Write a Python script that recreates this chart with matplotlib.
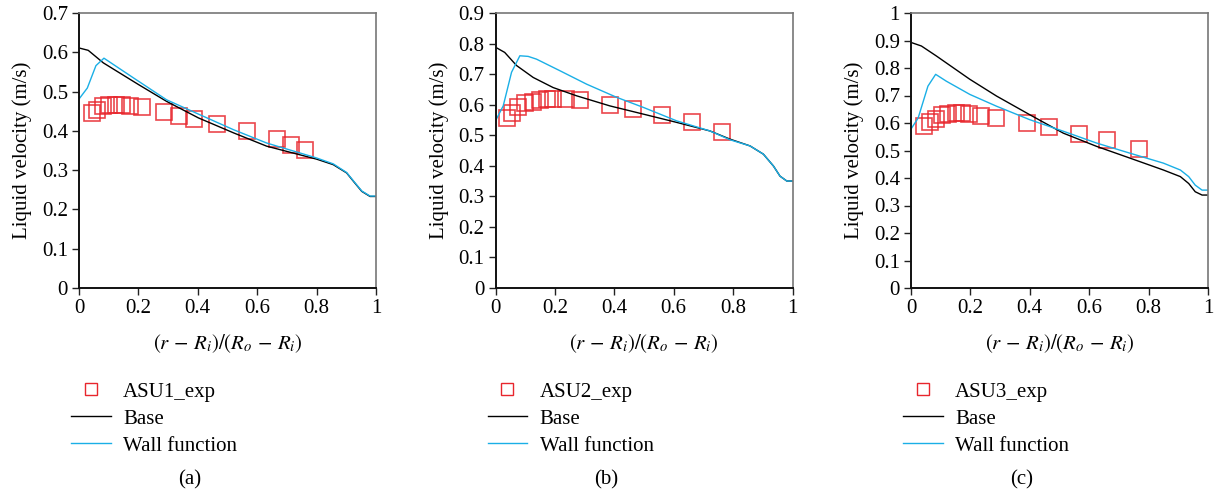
import matplotlib.pyplot as plt
from matplotlib.lines import Line2D

plt.rcParams['font.family'] = 'Liberation Serif'
plt.rcParams['mathtext.fontset'] = 'stix'
plt.rcParams['font.size'] = 15

# panel (a) ASU1
exp1_x = [0.045, 0.061, 0.082, 0.101, 0.125, 0.146, 0.172, 0.211, 0.286, 0.338,
          0.388, 0.464, 0.565, 0.666, 0.713, 0.761]
exp1_y = [0.445, 0.454, 0.462, 0.465, 0.466, 0.466, 0.464, 0.460, 0.447, 0.437,
          0.430, 0.417, 0.400, 0.379, 0.365, 0.352]
base1_x = [0, 0.031, 0.082, 0.2, 0.295, 0.402, 0.52, 0.632, 0.8, 0.856, 0.901,
           0.929, 0.952, 0.98, 1.0]
base1_y = [0.611, 0.605, 0.573, 0.518, 0.475, 0.433, 0.395, 0.361, 0.328, 0.314,
           0.293, 0.267, 0.246, 0.233, 0.233]
wall1_x = [0, 0.028, 0.057, 0.084, 0.183, 0.295, 0.407, 0.52, 0.632, 0.8, 0.856,
           0.901, 0.929, 0.952, 0.98, 1.0]
wall1_y = [0.481, 0.509, 0.566, 0.585, 0.535, 0.479, 0.441, 0.403, 0.369, 0.331,
           0.316, 0.294, 0.268, 0.247, 0.234, 0.234]

# panel (b) ASU2
exp2_x = [0.040, 0.057, 0.076, 0.099, 0.125, 0.149, 0.172, 0.194, 0.236, 0.284,
          0.385, 0.462, 0.562, 0.661, 0.764]
exp2_y = [0.558, 0.574, 0.594, 0.605, 0.610, 0.615, 0.618, 0.618, 0.618, 0.615,
          0.600, 0.585, 0.566, 0.542, 0.511]
base2_x = [0, 0.031, 0.071, 0.127, 0.194, 0.273, 0.385, 0.498, 0.61, 0.722, 0.79,
           0.857, 0.902, 0.936, 0.958, 0.981, 1.0]
base2_y = [0.788, 0.771, 0.728, 0.689, 0.656, 0.629, 0.596, 0.569, 0.542, 0.514,
           0.487, 0.465, 0.438, 0.399, 0.366, 0.350, 0.350]
wall2_x = [0, 0.026, 0.054, 0.082, 0.11, 0.138, 0.217, 0.307, 0.408, 0.498, 0.61,
           0.722, 0.79, 0.857, 0.902, 0.936, 0.958, 0.981, 1.0]
wall2_y = [0.547, 0.596, 0.706, 0.760, 0.758, 0.749, 0.711, 0.667, 0.624, 0.591,
           0.547, 0.514, 0.485, 0.465, 0.438, 0.399, 0.366, 0.350, 0.350]

# panel (c) ASU3
exp3_x = [0.044, 0.063, 0.083, 0.103, 0.125, 0.150, 0.172, 0.196, 0.237, 0.286,
          0.389, 0.463, 0.564, 0.661, 0.766]
exp3_y = [0.590, 0.602, 0.616, 0.628, 0.634, 0.637, 0.637, 0.634, 0.624, 0.618,
          0.600, 0.584, 0.561, 0.539, 0.506]
base3_x = [0, 0.035, 0.085, 0.198, 0.288, 0.4, 0.513, 0.625, 0.738, 0.85, 0.907,
           0.935, 0.957, 0.98, 1.0]
base3_y = [0.893, 0.880, 0.844, 0.759, 0.698, 0.630, 0.563, 0.515, 0.472, 0.429,
           0.405, 0.380, 0.350, 0.338, 0.338]
wall3_x = [0, 0.024, 0.057, 0.083, 0.119, 0.198, 0.288, 0.4, 0.513, 0.625, 0.738,
           0.85, 0.907, 0.935, 0.957, 0.98, 1.0]
wall3_y = [0.578, 0.618, 0.734, 0.777, 0.752, 0.704, 0.661, 0.612, 0.570, 0.527,
           0.490, 0.454, 0.429, 0.405, 0.374, 0.356, 0.356]

panels = [
    (exp1_x, exp1_y, base1_x, base1_y, wall1_x, wall1_y, 0.7, 'ASU1_exp', '(a)'),
    (exp2_x, exp2_y, base2_x, base2_y, wall2_x, wall2_y, 0.9, 'ASU2_exp', '(b)'),
    (exp3_x, exp3_y, base3_x, base3_y, wall3_x, wall3_y, 1.0, 'ASU3_exp', '(c)'),
]
lefts = [79, 495.5, 911]

red = '#e8262d'
blue = '#1aafe6'

W, H = 1222, 496
fig = plt.figure(figsize=(W / 100, H / 100), dpi=100)

for (ex, ey, bx, by, wx, wy, ymax, lab, tag), left in zip(panels, lefts):
    ax = fig.add_axes([left / W, 1 - 288 / H, 297 / W, 275 / H])
    ax.plot(ex, ey, 's', ms=11.5, mfc='none', mec=red, mew=1.2, alpha=0.85)
    ax.plot(bx, by, color='black', lw=1.0)
    ax.plot(wx, wy, color=blue, lw=1.0)
    ax.set_xlim(0, 1)
    ax.set_ylim(0, ymax)
    ax.set_xticks([0, 0.2, 0.4, 0.6, 0.8, 1.0])
    ax.set_xticklabels(['0', '0.2', '0.4', '0.6', '0.8', '1'])
    n = int(round(ymax * 10))
    ax.set_yticks([i / 10 for i in range(n + 1)])
    ax.set_yticklabels(['0'] + ['%.1f' % (i / 10) for i in range(1, n)]
                       + (['1'] if n == 10 else ['%.1f' % ymax]))
    ax.tick_params(direction='out', length=5, width=1.0, color='#222222', pad=3)
    for s in ['left', 'bottom']:
        ax.spines[s].set_linewidth(1.4)
        ax.spines[s].set_color('#111111')
    for s in ['top', 'right']:
        ax.spines[s].set_linewidth(1.2)
        ax.spines[s].set_color('#777777')
    ax.set_ylabel('Liquid velocity (m/s)', labelpad=7)
    ax.set_xlabel(r'$(r\,-\,R_i)/(R_o\,-\,R_i)$', labelpad=10)

    handles = [
        Line2D([], [], ls='none', marker='s', ms=8, mfc='none', mec=red, mew=1.0),
        Line2D([], [], color='black', lw=1.0),
        Line2D([], [], color=blue, lw=1.0),
    ]
    ax.legend(handles, [lab, 'Base', 'Wall function'], loc='upper left',
              bbox_to_anchor=((left - 8) / W, 1 - 382 / H),
              bbox_transform=fig.transFigure, frameon=False, borderpad=0,
              borderaxespad=0, handlelength=1.9, handletextpad=0.6,
              labelspacing=0.36)
    fig.text((left + 111) / W, 1 - 480 / H, tag, ha='center', va='center')

fig.savefig('out.png', dpi=100)
